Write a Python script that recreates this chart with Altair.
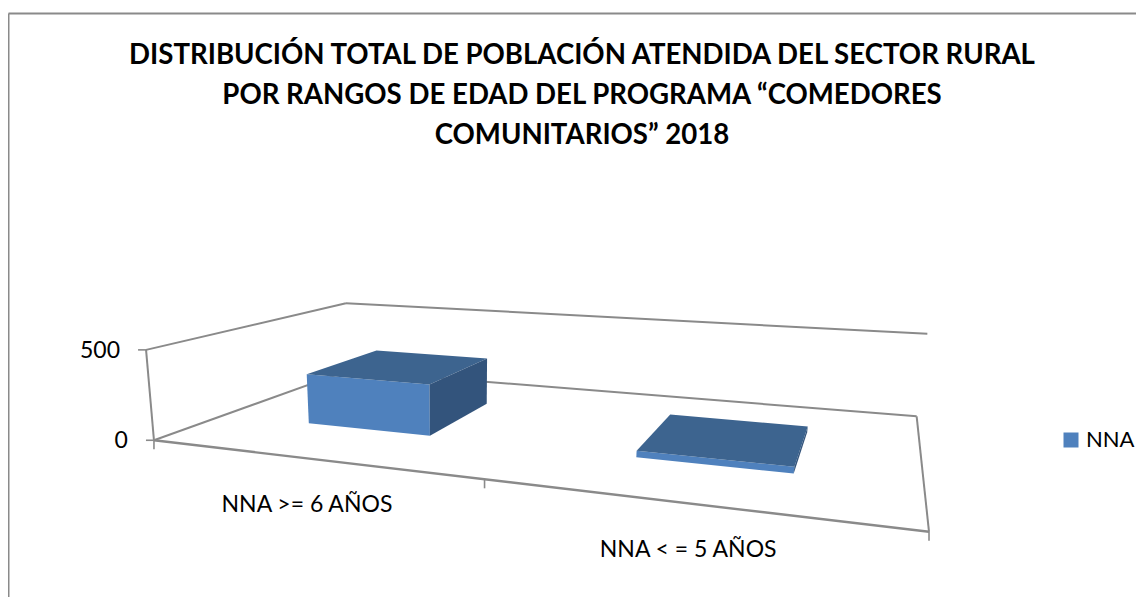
import numpy as np
import pandas as pd
import altair as alt

# ---- chart values ----
title_lines = [
    "DISTRIBUCIÓN TOTAL DE POBLACIÓN  ATENDIDA DEL SECTOR RURAL",
    "POR RANGOS DE EDAD DEL PROGRAMA “COMEDORES",
    "COMUNITARIOS” 2018",
]
categories = ["NNA >= 6 AÑOS", "NNA < = 5 AÑOS"]
series_name = "NNA"
values = [292, 34]
value_ticks = [0, 500]
value_max = 500

# ---- perspective camera of the 3-D box: (across, value, depth) -> page pixels ----
camera = [
    [537.03, -11.577, 318.522, 153.958],
    [-44.731, -99.213, 62.923, 440.274],
    [-0.25621, -0.025196, 0.35752, 1.0],
]
P = np.array(camera)
bar_half = 0.10
depth_front, depth_back = 0.30, 0.70


def project(u, val, w):
    h = P @ np.array([u, val / value_max, w, 1.0])
    return float(h[0] / h[2]), float(h[1] / h[2])


# polygons (faces of the bars)
faces = []
n = len(categories)
for i, (cat, val) in enumerate(zip(categories, values)):
    c = (i + 0.5) / n
    l, r = c - bar_half, c + bar_half
    f, b = depth_front, depth_back
    shapes = {
        series_name: [(l, 0, f), (r, 0, f), (r, val, f), (l, val, f)],
        "Superior": [(l, val, f), (r, val, f), (r, val, b), (l, val, b)],
        "Lateral": [(r, 0, f), (r, 0, b), (r, val, b), (r, val, f)],
    }
    for face, corners in shapes.items():
        for k, corner in enumerate(corners + corners[:1]):
            x, y = project(*corner)
            faces.append(dict(cat=cat, face=face, poly=f"{i}-{face}", k=k, x=x, y=y))
faces = pd.DataFrame(faces)

# box outline
edges = [
    ((0, 0, 0), (1, 0, 0), 2.4),
    ((1, 0, 0), (1, 0, 1), 2.0),
    ((1, 0, 1), (0, 0, 1), 2.0),
    ((0, 0, 1), (0, 0, 0), 2.0),
    ((0, 0, 0), (0, value_max, 0), 2.0),
    ((0, value_max, 0), (0, value_max, 1), 2.0),
    ((0, value_max, 1), (1, value_max, 1), 2.0),
]
edge_rows = []
for e, (a, b, sw) in enumerate(edges):
    xa, ya = project(*a)
    xb, yb = project(*b)
    edge_rows.append(dict(x=xa, y=ya, x2=xb, y2=yb, sw=sw))

# ticks
for v in value_ticks:
    x, y = project(0, v, 0)
    edge_rows.append(dict(x=x - 8, y=y, x2=x, y2=y, sw=1.6))
for u in [0, 0.5, 1]:
    x, y = project(u, 0, 0)
    edge_rows.append(dict(x=x, y=y, x2=x, y2=y + 9, sw=1.6))
edges_df = pd.DataFrame(edge_rows)

y_labels = pd.DataFrame(
    [dict(label=str(v), x=project(0, v, 0)[0] - 26, y=project(0, v, 0)[1] + 1) for v in value_ticks]
)
x_labels = pd.DataFrame(
    [
        dict(
            label=cat,
            x=project((i + 0.5) / n, 0, 0)[0] - 1,
            y=project((i + 0.5) / n, 0, 0)[1] + 47,
        )
        for i, cat in enumerate(categories)
    ]
)

# chart frame (clipped by the picture on the right and at the bottom)
frame_left, frame_top, frame_bottom, frame_right = 8.5, 13.5, 597, 1136
frame_df = pd.DataFrame(
    [
        dict(x=frame_left, y=frame_bottom, x2=frame_left, y2=frame_top),
        dict(x=frame_left, y=frame_top, x2=frame_right, y2=frame_top),
    ]
)

TOP = 140
xs = alt.Scale(domain=[8, 1136], range=[0, 1128])
ys = alt.Scale(domain=[8 + TOP, 597], range=[0, 449])
X = alt.X("x:Q", scale=xs, axis=None)
Y = alt.Y("y:Q", scale=ys, axis=None)
GRAY = "#8a8a8a"

frame = alt.Chart(frame_df).mark_rule(color=GRAY, strokeWidth=2).encode(X, Y, x2="x2:Q", y2="y2:Q")
lines = (
    alt.Chart(edges_df)
    .mark_rule(color=GRAY)
    .encode(X, Y, x2="x2:Q", y2="y2:Q", strokeWidth=alt.StrokeWidth("sw:Q", scale=None))
)
bars = (
    alt.Chart(faces)
    .mark_line(strokeWidth=0.5, stroke=None)
    .encode(
        X,
        Y,
        order="k:Q",
        detail="poly:N",
        fill=alt.Fill(
            "face:N",
            scale=alt.Scale(
                domain=[series_name, "Superior", "Lateral"],
                range=["#4f81bd", "#3d648f", "#33547c"],
            ),
            legend=alt.Legend(
                values=[series_name],
                title=None,
                orient="none",
                legendX=1052,
                legendY=281,
                symbolType="square",
                symbolSize=225,
                symbolStrokeWidth=0,
                labelFont="Lato",
                labelFontSize=22,
                labelColor="#000000",
                padding=0,
                labelOffset=4,
            ),
        ),
    )
)
ylab = (
    alt.Chart(y_labels)
    .mark_text(font="Lato", fontSize=23, align="right", color="#000000")
    .encode(X, Y, text="label:N")
)
xlab = (
    alt.Chart(x_labels)
    .mark_text(font="Lato", fontSize=23, align="center", color="#000000")
    .encode(X, Y, text="label:N")
)

chart = (
    alt.layer(frame, lines, bars, ylab, xlab)
    .resolve_scale(fill="independent")
    .properties(
        width=1128,
        height=449,
        padding={"left": 0, "top": TOP, "right": 0, "bottom": 0},
        autosize=alt.AutoSizeParams(type="none"),
        background="#ffffff",
        title=alt.TitleParams(
            text=title_lines,
            font="Lato",
            fontSize=27.6,
            fontWeight="bold",
            color="#000000",
            lineHeight=40,
            anchor="middle",
            frame="group",
            dx=10,
            offset=-137.5,
        ),
    )
    .configure_view(stroke=None)
)
chart.save("out.html", embed_options={"renderer": "svg", "actions": False})
